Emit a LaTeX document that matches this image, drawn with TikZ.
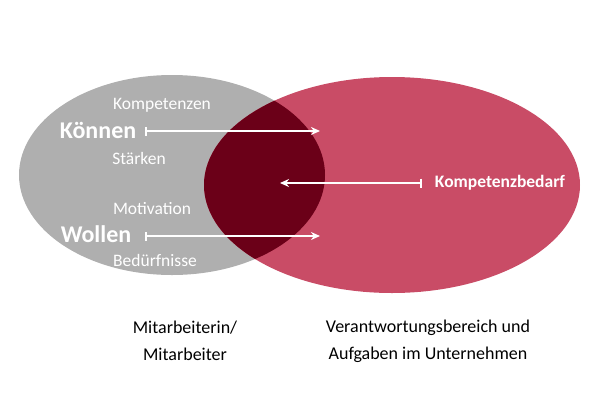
\documentclass[tikz,border=0pt]{standalone}
\usepackage{fontspec}
\setmainfont{Carlito}
\usetikzlibrary{arrows.meta}
\definecolor{grayE}{HTML}{AFAFAF}
\definecolor{redE}{HTML}{C94C66}
\definecolor{darkE}{HTML}{6B0018}
\tikzset{
 wt/.style={text=white,font=\fontsize{17.5}{20}\selectfont},
 big/.style={text=white,font=\fontsize{24}{26}\selectfont\bfseries},
 lbl/.style={align=center,font=\fontsize{18}{27}\selectfont},
 arr/.style={white,line width=1.6pt,{Bar[width=9pt]}-{Stealth[length=9pt,width=8pt]}}
}
\begin{document}
\begin{tikzpicture}[x=1pt,y=-1pt]
\useasboundingbox (0,0) rectangle (600,400);
\fill[grayE] (172,175) ellipse [x radius=153, y radius=100];
\fill[redE] (392,185) ellipse [x radius=188, y radius=108];
\begin{scope}
\clip (172,175) ellipse [x radius=153, y radius=100];
\fill[darkE] (392,185) ellipse [x radius=188, y radius=108];
\end{scope}
\node[wt] (komp) at (162,105) {Kompetenzen};
\node[big] (kon) at (98,130) {Können};
\node[wt] (sta) at (139,158) {Stärken};
\node[wt] (mot) at (152,209) {Motivation};
\node[big] (wol) at (96,234) {Wollen};
\node[wt] (bed) at (155,260) {Bedürfnisse};
\node[text=white,font=\fontsize{17.5}{20}\selectfont\bfseries] (bedarf) at (500,183) {Kompetenzbedarf};
\coordinate (k1) at (145,131); \coordinate (k2) at (320,131);
\coordinate (w1) at (145,236); \coordinate (w2) at (320,236);
\coordinate (b1) at (422,183); \coordinate (b2) at (280,183);
\draw[arr] (k1) -- (k2);
\draw[arr] (w1) -- (w2);
\draw[arr] (b1) -- (b2);
\node[lbl] (ma) at (185,341) {Mitarbeiterin/\\Mitarbeiter};
\node[lbl] (vb) at (428,341) {Verantwortungsbereich und\\Aufgaben im Unternehmen};
\end{tikzpicture}
\end{document}
